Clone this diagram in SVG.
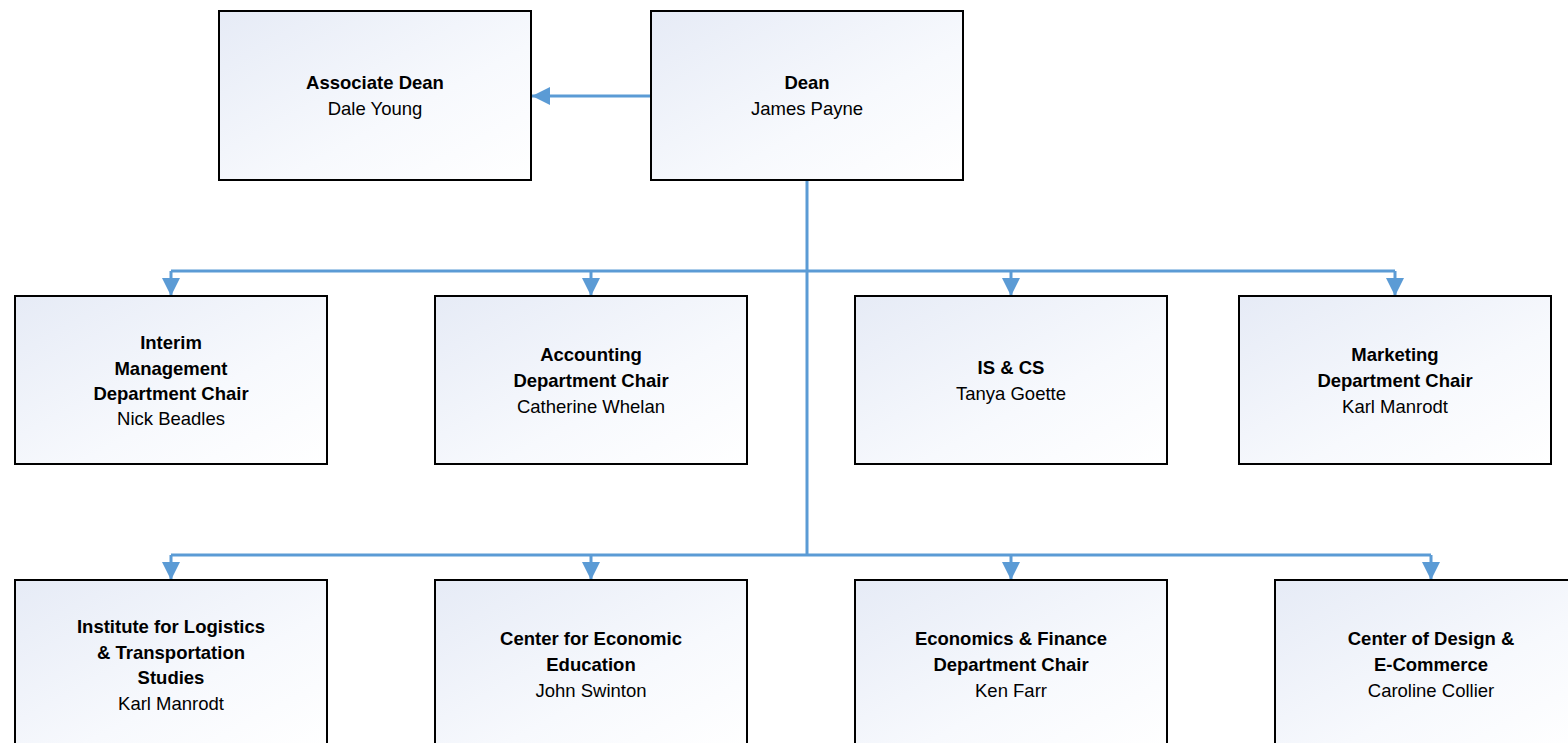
<svg xmlns="http://www.w3.org/2000/svg" width="1568" height="743" viewBox="0 0 1568 743">
<defs>
<linearGradient id="g" x1="0" y1="0" x2="1" y2="1">
<stop offset="0" stop-color="#E6EBF6"/>
<stop offset="0.6" stop-color="#F7F9FD"/>
<stop offset="1" stop-color="#FFFFFF"/>
</linearGradient>
<marker id="ah" markerUnits="userSpaceOnUse" viewBox="0 0 18 18" refX="18" refY="9" markerWidth="18" markerHeight="18" orient="auto">
<path d="M0,0 L18,9 L0,18 Z" fill="#5B9BD5"/>
</marker>
</defs>
<style>
.box{fill:url(#g);stroke:#000;stroke-width:2}
.t{font-family:"Liberation Sans",Arial,sans-serif;font-size:18.5px;fill:#000;text-anchor:middle}
.b{font-weight:bold}
.c{fill:none;stroke:#5B9BD5;stroke-width:3}
</style>
<rect width="1568" height="743" fill="#fff"/>
<g id="connectors">
<path class="c" d="M651,96 H532" marker-end="url(#ah)"/>
<path class="c" d="M807,180 V555"/>
<path class="c" d="M171,271 H1395"/>
<path class="c" d="M171,271 V296" marker-end="url(#ah)"/>
<path class="c" d="M591,271 V296" marker-end="url(#ah)"/>
<path class="c" d="M1011,271 V296" marker-end="url(#ah)"/>
<path class="c" d="M1395,271 V296" marker-end="url(#ah)"/>
<path class="c" d="M171,555 H1431"/>
<path class="c" d="M171,555 V580" marker-end="url(#ah)"/>
<path class="c" d="M591,555 V580" marker-end="url(#ah)"/>
<path class="c" d="M1011,555 V580" marker-end="url(#ah)"/>
<path class="c" d="M1431,555 V580" marker-end="url(#ah)"/>
</g>
<g id="assocdean">
<rect class="box" x="219" y="11" width="312" height="169"/>
<text class="t b" x="375" y="89">Associate Dean</text>
<text class="t" x="375" y="115">Dale Young</text>
</g>
<g id="dean">
<rect class="box" x="651" y="11" width="312" height="169"/>
<text class="t b" x="807" y="89">Dean</text>
<text class="t" x="807" y="115">James Payne</text>
</g>
<g id="management">
<rect class="box" x="15" y="296" width="312" height="168"/>
<text class="t b" x="171" y="349">Interim</text>
<text class="t b" x="171" y="375">Management</text>
<text class="t b" x="171" y="400">Department Chair</text>
<text class="t" x="171" y="425">Nick Beadles</text>
</g>
<g id="accounting">
<rect class="box" x="435" y="296" width="312" height="168"/>
<text class="t b" x="591" y="361">Accounting</text>
<text class="t b" x="591" y="387">Department Chair</text>
<text class="t" x="591" y="413">Catherine Whelan</text>
</g>
<g id="iscs">
<rect class="box" x="855" y="296" width="312" height="168"/>
<text class="t b" x="1011" y="374">IS &amp; CS</text>
<text class="t" x="1011" y="400">Tanya Goette</text>
</g>
<g id="marketing">
<rect class="box" x="1239" y="296" width="312" height="168"/>
<text class="t b" x="1395" y="361">Marketing</text>
<text class="t b" x="1395" y="387">Department Chair</text>
<text class="t" x="1395" y="413">Karl Manrodt</text>
</g>
<g id="logistics">
<rect class="box" x="15" y="580" width="312" height="168"/>
<text class="t b" x="171" y="633">Institute for Logistics</text>
<text class="t b" x="171" y="659">&amp; Transportation</text>
<text class="t b" x="171" y="684">Studies</text>
<text class="t" x="171" y="710">Karl Manrodt</text>
</g>
<g id="econed">
<rect class="box" x="435" y="580" width="312" height="168"/>
<text class="t b" x="591" y="645">Center for Economic</text>
<text class="t b" x="591" y="671">Education</text>
<text class="t" x="591" y="697">John Swinton</text>
</g>
<g id="econfin">
<rect class="box" x="855" y="580" width="312" height="168"/>
<text class="t b" x="1011" y="645">Economics &amp; Finance</text>
<text class="t b" x="1011" y="671">Department Chair</text>
<text class="t" x="1011" y="697">Ken Farr</text>
</g>
<g id="design">
<rect class="box" x="1275" y="580" width="312" height="168"/>
<text class="t b" x="1431" y="645">Center of Design &amp;</text>
<text class="t b" x="1431" y="671">E-Commerce</text>
<text class="t" x="1431" y="697">Caroline Collier</text>
</g>
</svg>
